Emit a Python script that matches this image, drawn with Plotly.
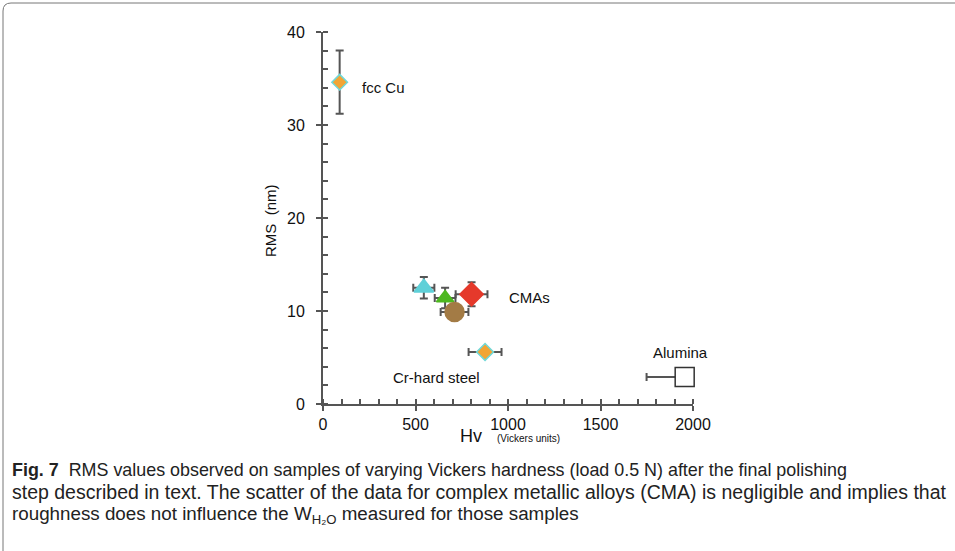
import plotly.graph_objects as go

# ---- data ----
names = ["fcc Cu", "CMA 1", "CMA 2", "CMA 3", "CMA 4", "Cr-hard steel", "Alumina"]
hv = [90, 545, 660, 803, 711, 876, 1955]
rms = [34.6, 12.5, 11.4, 11.8, 9.9, 5.6, 2.9]
hv_err_plus = [0, 57, 56, 86, 75, 89, 0]
hv_err_minus = [0, 57, 56, 86, 75, 89, 206]
rms_err = [3.4, 1.15, 1.1, 1.3, 0.8, 0, 0]
symbols = ["diamond", "triangle-up", "triangle-up", "diamond", "circle", "diamond", "square"]
fills = ["#f2a535", "#5fd0d8", "#4db81f", "#e5392b", "#a37b45", "#f2a535", "#ffffff"]
outlines = ["#6fd8d8", "#5fd0d8", "#4db81f", "#e5392b", "#a37b45", "#6fd8d8", "#333333"]
sizes = [12, 17, 15, 18, 19, 13, 19]

x_ticks = [0, 500, 1000, 1500, 2000]
y_ticks = [0, 10, 20, 30, 40]

labels = ["fcc Cu", "CMAs", "Cr-hard steel", "Alumina"]
label_x = [201, 995, 612, 1930]
label_y = [34.0, 11.5, 2.9, 5.5]
label_anchor = ["left", "left", "center", "center"]

caption_lines = [
    "<b>Fig. 7</b>  RMS values observed on samples of varying Vickers hardness (load 0.5 N) after the final polishing",
    "step described in text. The scatter of the data for complex metallic alloys (CMA) is negligible and implies that",
    "roughness does not influence the W<sub>H\u2082O</sub> measured for those samples",
]

# ---- layout geometry ----
W, H = 955, 551
L, R, T, B = 323, 262, 32, 147
pw, ph = W - L - R, H - T - B


def px_x(p):
    return (p - L) / pw


def px_y(p):
    return (H - B - p) / ph


fig = go.Figure()
axis_col = "#555555"
for i in range(len(names)):
    fig.add_trace(go.Scatter(
        x=[hv[i]], y=[rms[i]], mode="markers", name=names[i],
        marker=dict(symbol=symbols[i], size=sizes[i], color=fills[i],
                    line=dict(color=outlines[i], width=1.5)),
        error_x=dict(type="data", symmetric=False, array=[hv_err_plus[i]],
                     arrayminus=[hv_err_minus[i]], color=axis_col, thickness=2, width=4,
                     visible=(hv_err_minus[i] > 0)),
        error_y=dict(type="data", array=[rms_err[i]], color=axis_col, thickness=2, width=4,
                     visible=(rms_err[i] > 0)),
        cliponaxis=False, showlegend=False,
    ))

font_main = "Liberation Sans, Arial, sans-serif"
fig.update_layout(
    width=W, height=H, margin=dict(l=L, r=R, t=T, b=B),
    paper_bgcolor="white", plot_bgcolor="white",
    font=dict(family=font_main, color="#111111"),
    xaxis=dict(range=[0, 2000], tickvals=x_ticks, ticktext=[str(v) for v in x_ticks],
               showgrid=False, zeroline=False, showline=True, linecolor=axis_col, linewidth=2,
               ticks="outside", ticklen=5, tickwidth=2, tickcolor=axis_col,
               tickfont=dict(size=16, family=font_main, color="#111"),
               minor=dict(dtick=100, ticks="inside", ticklen=5, tickwidth=1.5, tickcolor=axis_col, showgrid=False)),
    yaxis=dict(range=[0, 40], tickvals=y_ticks, ticktext=[str(v) for v in y_ticks],
               showgrid=False, zeroline=False, showline=True, linecolor=axis_col, linewidth=2,
               ticks="outside", ticklen=5, tickwidth=2, tickcolor=axis_col, ticklabelstandoff=8,
               tickfont=dict(size=16, family=font_main, color="#111"),
               minor=dict(dtick=2, ticks="inside", ticklen=5, tickwidth=1.5, tickcolor=axis_col, showgrid=False)),
)

for t, x, y, a in zip(labels, label_x, label_y, label_anchor):
    fig.add_annotation(x=x, y=y, xref="x", yref="y", text=t, showarrow=False,
                       xanchor=a, yanchor="middle", font=dict(size=15, family=font_main, color="#111"))

# axis titles
fig.add_annotation(x=px_x(270), y=px_y(221), xref="paper", yref="paper",
                   text="RMS\u00a0\u00a0(nm)", textangle=-90, showarrow=False,
                   xanchor="center", yanchor="middle", font=dict(size=15, family=font_main, color="#111"))
fig.add_annotation(x=px_x(510), y=px_y(436), xref="paper", yref="paper",
                   text="Hv\u00a0\u00a0\u00a0<span style='font-size:10px'>(Vickers units)</span>",
                   showarrow=False, xanchor="center", yanchor="middle",
                   font=dict(size=18, family=font_main, color="#111"))

# caption
cap_font = "Liberation Sans Narrow, Arial Narrow, sans-serif"
for line, py, fs in zip(caption_lines, [470, 492, 515], [17.9, 19.5, 18.8]):
    fig.add_annotation(x=px_x(10), y=px_y(py), xref="paper", yref="paper", text=line,
                       showarrow=False, xanchor="left", yanchor="middle", align="left",
                       font=dict(size=fs, family=cap_font, color="#222"))

# frame (left + top with rounded corner)
r = 8
path = (f"M {px_x(3)} {px_y(H)} L {px_x(3)} {px_y(3 + r)} "
        f"Q {px_x(3)} {px_y(3)} {px_x(3 + r)} {px_y(3)} L {px_x(W)} {px_y(3)}")
fig.add_shape(type="path", path=path, xref="paper", yref="paper",
              line=dict(color="#777777", width=1))

fig.write_html("out.html", config={"displayModeBar": False},
               post_script="document.body.style.margin='0px';")
